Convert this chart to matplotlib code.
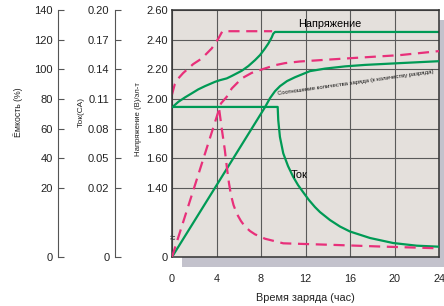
import numpy as np
import matplotlib
matplotlib.use('Agg')
import matplotlib.pyplot as plt
from matplotlib.patches import Rectangle

plt.rcParams['font.family'] = ['Liberation Sans', 'DejaVu Sans']

# Time axis (hours)
x_ticks = [0, 4, 8, 12, 16, 20, 24]

# Left axes tick values
volt_ticks = [0, 1.40, 1.60, 1.80, 2.00, 2.20, 2.40, 2.60]
volt_labels = ['0', '1.40', '1.60', '1.80', '2.00', '2.20', '2.40', '2.60']
cap_ticks = [0, 20, 40, 60, 80, 100, 120, 140]
cur_ticks = [0, 0.02, 0.05, 0.08, 0.11, 0.14, 0.17, 0.20]
cur_labels = ['0', '0.02', '0.05', '0.08', '0.11', '0.14', '0.17', '0.20']

# 0.1CA charge (green, solid)
g_volt_t = [0, 0.57, 1.17, 1.77, 2.36, 2.97, 3.87, 4.31, 4.92, 5.36, 6.26, 6.86,
            7.46, 7.91, 8.36, 8.66, 8.96, 9.1, 9.26, 24]
g_volt = [1.943, 1.981, 2.011, 2.038, 2.065, 2.087, 2.116, 2.127, 2.139, 2.155, 2.19,
          2.222, 2.262, 2.296, 2.341, 2.374, 2.415, 2.44, 2.452, 2.452]
g_cur_t = [0, 9.5, 9.55, 9.7, 10.0, 10.43, 10.88, 11.33, 11.78, 12.31, 12.85, 13.3,
           14.2, 15.1, 16.0, 17.8, 19.87, 22.0, 24.0]
g_cur = [0.102, 0.102, 0.0887, 0.0718, 0.0551, 0.0422, 0.0316, 0.0230, 0.01884,
         0.01652, 0.01449, 0.01304, 0.01072, 0.00884, 0.00739, 0.00551, 0.00406,
         0.00328, 0.00299]
g_cap_t = [0, 3.85, 8.36, 8.81, 9.26, 9.71, 10.34, 11.06, 12.4, 13.75, 15.55, 17.35,
           20.49, 24.0]
g_cap = [0, 20, 74.5, 80.6, 85.3, 88.7, 92.1, 94.7, 98.8, 100.5, 102.0, 103.0,
         104.2, 105.5]

# higher-rate charge (pink, dashed)
p_volt_t = [0, 0.25, 0.57, 1.0, 1.47, 1.9, 2.67, 3.57, 4.17, 4.53, 9.0]
p_volt = [2.03, 2.10, 2.139, 2.175, 2.206, 2.235, 2.273, 2.341, 2.408, 2.457, 2.457]
p_cur_t = [4.25, 4.49, 4.75, 4.94, 5.12, 5.30, 5.53, 5.84, 6.20, 6.56, 7.01, 7.46,
           8.36, 10.0, 14.8, 18.7, 24.0]
p_cur = [0.0988, 0.0786, 0.0584, 0.0402, 0.0251, 0.01797, 0.01507, 0.01246, 0.01043,
         0.00884, 0.00754, 0.00658, 0.0053, 0.00397, 0.00348, 0.00304, 0.00252]
p_cap_t = [0, 1.98, 4.4, 4.92, 5.37, 6.27, 7.16, 8.06, 9.26, 10.16, 11.5, 13.7, 16.0,
           20.5, 24.0]
p_cap = [0, 20, 77.0, 81.5, 87.1, 93.9, 97.6, 99.9, 102.8, 104.2, 105.3, 106.4, 107.5,
         109.6, 112.3]

GREEN = '#009a55'
PINK = '#e8307a'
BG = '#e4e0dc'
GRID = '#5a5a5a'
DASH = (0, (5, 3))


def broken(brk, ratio):
    # axis is stretched below the break value
    def fwd(v):
        v = np.asarray(v, dtype=float)
        return np.where(v >= brk, v, brk - (brk - v) * ratio)

    def inv(u):
        u = np.asarray(u, dtype=float)
        return np.where(u >= brk, u, brk - (brk - u) / ratio)
    return fwd, inv


fig = plt.figure(figsize=(4.44, 3.06), dpi=100)
fig.patch.set_facecolor('white')

# drop shadow behind the plot area
fig.add_artist(Rectangle((182 / 444, 39 / 306), 262 / 444, 247 / 306,
                         transform=fig.transFigure, facecolor='#c3c2cc',
                         edgecolor='none', zorder=-5))

ax = fig.add_axes([172 / 444, 49 / 306, 267 / 444, 247 / 306])
ax.set_facecolor(BG)
ax.set_yscale('function', functions=broken(1.4, 0.332))
ax.set_ylim(0, 2.6)
ax.set_xlim(0, 24)
ax.set_xticks(x_ticks)
ax.set_yticks(volt_ticks)
ax.set_yticklabels(volt_labels)
ax.tick_params(axis='x', length=0, pad=12.5, labelsize=7.8, colors='#222222')
ax.tick_params(axis='y', length=0, pad=3, labelsize=8, colors='#222222')
ax.grid(True, color=GRID, linewidth=0.8)
ax.set_axisbelow(True)
for s in ax.spines.values():
    s.set_color('#333333')
    s.set_linewidth(1.1)
ax.set_xlabel('Время заряда (час)', fontsize=7.8, labelpad=6, color='#222222')
ax.set_ylabel('Напряжение (В)/эл-т', fontsize=5.6, color='#222222')
ax.yaxis.set_label_coords(-0.113, 0.56)

ax.plot(g_volt_t, g_volt, color=GREEN, lw=1.6)
ax.plot(p_volt_t, p_volt, color=PINK, lw=1.6, ls=DASH)
ax.text(0, 0.385, '≈', fontsize=7, ha='center', va='center', color='#333333')


def side_axis(pos, scale, lim, ticks, labels, label, label_x, label_size):
    a = ax.twinx()
    a.set_yscale('function', functions=scale)
    a.set_ylim(*lim)
    for s in ['top', 'right', 'bottom']:
        a.spines[s].set_visible(False)
    a.spines['left'].set_visible(True)
    a.spines['left'].set_position(('axes', pos))
    a.spines['left'].set_color('#555555')
    a.spines['left'].set_linewidth(0.8)
    a.yaxis.tick_left()
    a.yaxis.set_label_position('left')
    a.set_yticks(ticks)
    a.set_yticklabels(labels)
    a.tick_params(axis='y', direction='in', length=4, width=0.8, color='#555555',
                  pad=4, labelsize=8, labelcolor='#222222')
    a.set_ylabel(label, fontsize=label_size, color='#222222')
    a.yaxis.set_label_coords(label_x, 0.587)
    return a


ax_cap = side_axis(-0.426, broken(20, 2.323), (0, 140), cap_ticks,
                   [str(t) for t in cap_ticks], 'Ёмкость (%)', -0.558, 6.3)
ax_cur = side_axis(-0.2135, broken(0.02, 3.485), (0, 0.20), cur_ticks,
                   cur_labels, 'Ток(СА)', -0.326, 6.0)

ax_cur.plot(g_cur_t, g_cur, color=GREEN, lw=1.6)
ax_cur.plot(p_cur_t, p_cur, color=PINK, lw=1.6, ls=DASH)
ax_cap.plot(g_cap_t, g_cap, color=GREEN, lw=1.6)
ax_cap.plot(p_cap_t, p_cap, color=PINK, lw=1.6, ls=DASH)

fig.text(330 / 444, 1 - 24 / 306, 'Напряжение', fontsize=7.8, ha='center', va='center')
fig.text(291 / 444, 1 - 175 / 306, 'Ток', fontsize=7.8, ha='left', va='center')
fig.text(356 / 444, 1 - 83 / 306,
         'Соотношение количества заряда (к количеству разряда)',
         fontsize=4.3, ha='center', va='center', rotation=8, color='#111111')

fig.savefig('out.png', dpi=100)
